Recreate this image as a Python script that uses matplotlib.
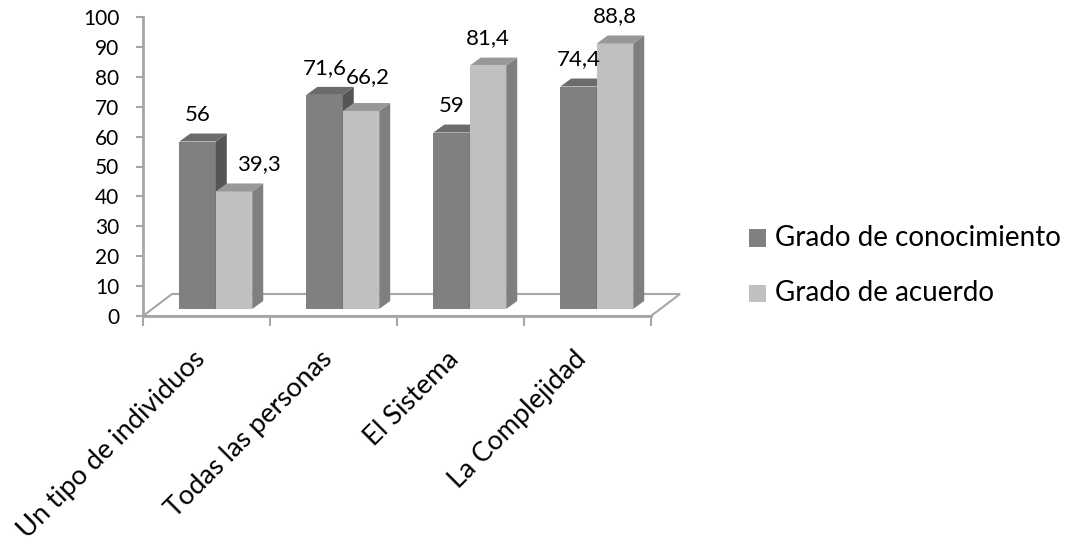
import matplotlib

matplotlib.use("Agg")
import matplotlib.pyplot as plt
from matplotlib.patches import Polygon, Rectangle

plt.rcParams["font.family"] = ["Lato", "DejaVu Sans"]

categories = ["Un tipo de individuos", "Todas las personas", "El Sistema", "La Complejidad"]
series_names = ["Grado de conocimiento", "Grado de acuerdo"]
conocimiento = [56, 71.6, 59, 74.4]
acuerdo = [39.3, 66.2, 81.4, 88.8]
value_text = [["56", "71,6", "59", "74,4"], ["39,3", "66,2", "81,4", "88,8"]]
# hand-placed labels in the original (pixels: dx, dy)
label_nudge = [[(0, 0), (0, 0), (0, 0), (0, 0)], [(25, 0), (7, -7), (0, 0), (0, 0)]]

# colours per series: front, side, top
faces = [("#808080", "#555555", "#6c6c6c"), ("#c0c0c0", "#7f7f7f", "#989898")]
axis_grey = "#a6a6a6"

W, H = 1069, 548
fig = plt.figure(figsize=(W / 100, H / 100), dpi=100)
x0, x1, y0, y1 = 143, 651, 316, 17
ax = fig.add_axes([x0 / W, 1 - y0 / H, (x1 - x0) / W, (y0 - y1) / H])
ax.set_xlim(0, 4)
ax.set_ylim(0, 100)
ax.patch.set_visible(False)

px_x = 4 / (x1 - x0)      # category units per pixel
px_y = 100 / (y0 - y1)    # value units per pixel

# floor depth and bar geometry
fdx, fdy = 29 * px_x, 22 * px_y
base = 0.32
bw = 0.287
bdx, bdy = 11 * px_x, 8 * px_y
sdx, sdy = base * fdx, base * fdy

floor = [(0, 0), (4, 0), (4 + fdx, fdy), (fdx, fdy)]
ax.add_patch(Polygon(floor, closed=True, fill=False, edgecolor=axis_grey, lw=1.5, clip_on=False, zorder=1))

for i in range(len(categories)):
    for s, vals in enumerate([conocimiento, acuerdo]):
        v = vals[i]
        left = i + 0.5 - bw + s * bw + sdx
        right = left + bw
        b = sdy
        t = sdy + v
        front, side, top = faces[s]
        ax.add_patch(Polygon([(left, b), (right, b), (right, t), (left, t)], closed=True,
                             facecolor=front, edgecolor="none", clip_on=False, zorder=2))
        ax.add_patch(Polygon([(right, b), (right + bdx, b + bdy), (right + bdx, t + bdy), (right, t)],
                             closed=True, facecolor=side, edgecolor="none", clip_on=False, zorder=2))
        ax.add_patch(Polygon([(left, t), (right, t), (right + bdx, t + bdy), (left + bdx, t + bdy)],
                             closed=True, facecolor=top, edgecolor="none", clip_on=False, zorder=2))
        nx, ny = label_nudge[s][i]
        ax.annotate(value_text[s][i], ((left + right) / 2, t), xytext=(nx * 0.72, (27 - ny) * 0.72),
                    textcoords="offset points", ha="center", va="center", fontsize=16,
                    color="black", annotation_clip=False, zorder=3)

for sp in ["top", "right"]:
    ax.spines[sp].set_visible(False)
ax.spines["left"].set_color(axis_grey)
ax.spines["left"].set_linewidth(2)
ax.spines["bottom"].set_color(axis_grey)
ax.spines["bottom"].set_linewidth(2)

ax.set_yticks(range(0, 101, 10))
ax.tick_params(axis="y", length=5, width=1.5, color=axis_grey, labelsize=15, pad=12)

ax.set_xticks(range(5))
ax.set_xticklabels([""] * 5)
ax.tick_params(axis="x", which="major", length=7, width=1.5, color=axis_grey)
ax.set_xticks([i + 0.39 for i in range(len(categories))], minor=True)
ax.set_xticklabels(categories, minor=True, rotation=45, ha="right", rotation_mode="anchor",
                   fontsize=19.5)
ax.tick_params(axis="x", which="minor", length=0, pad=22)

# legend
for s, name in enumerate(series_names):
    yc = [238, 293][s]
    fig.patches.append(Rectangle((749 / W, 1 - (yc + 8.5) / H), 17 / W, 17 / H,
                                 transform=fig.transFigure, facecolor=faces[s][0], edgecolor="none"))
    fig.text(775 / W, 1 - yc / H, name, ha="left", va="center", fontsize=20)

fig.savefig("out.png", dpi=100)
